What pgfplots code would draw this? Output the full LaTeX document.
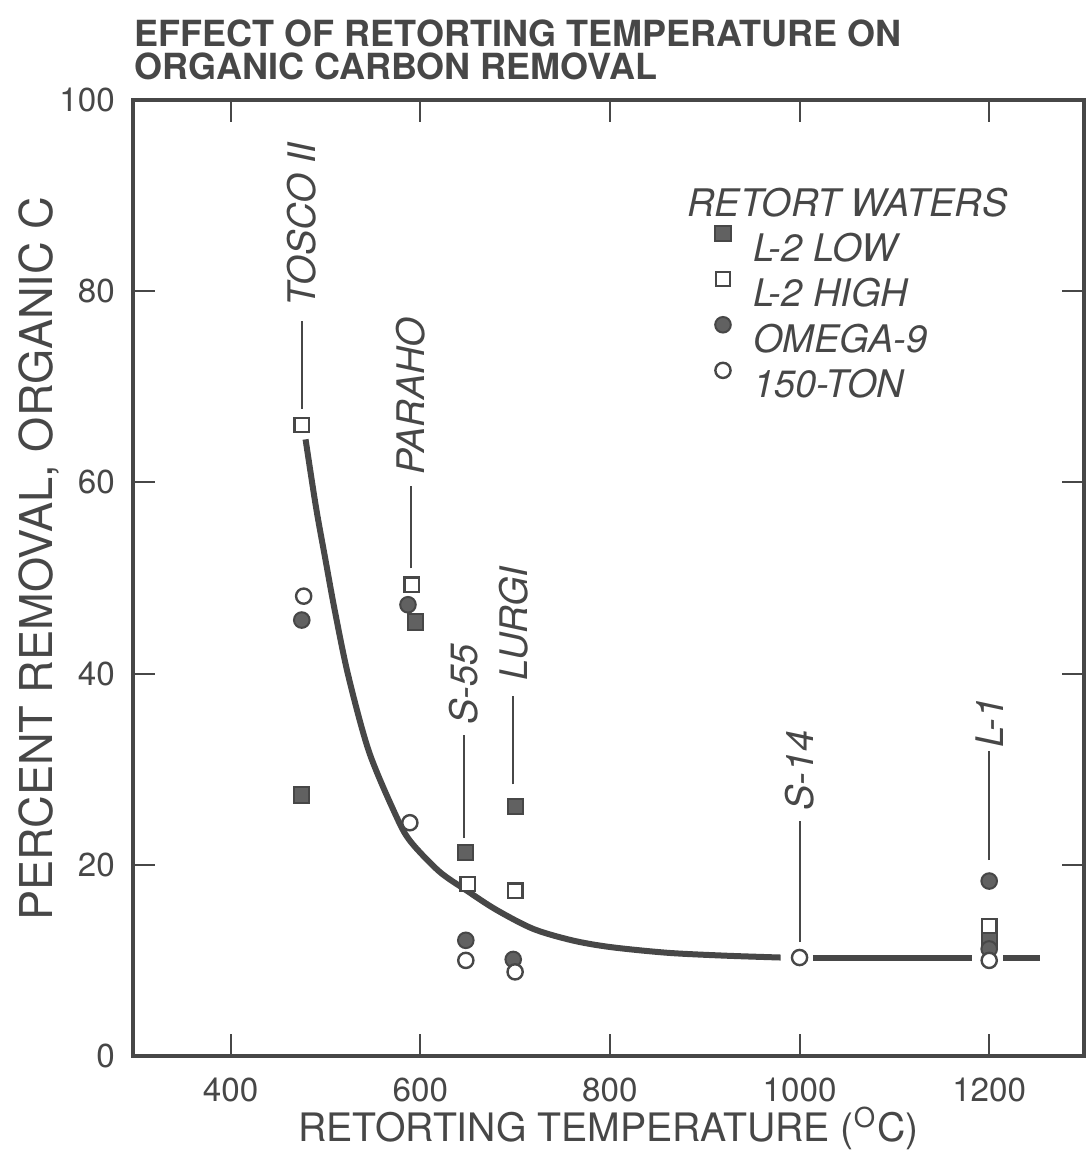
\documentclass[border=0pt]{standalone}
\usepackage{fontspec}
\setmainfont{TeX Gyre Heros}
\usepackage{pgfplots}
\pgfplotsset{compat=1.18}
\definecolor{ink}{gray}{0.28}
\definecolor{fillmk}{gray}{0.38}
\newcommand{\lbl}{\fontsize{9.5}{9.5}\selectfont\itshape}

\begin{document}
\begin{tikzpicture}
\useasboundingbox (0,0) rectangle (272pt,288.25pt);
\begin{axis}[
  at={(33.25pt,24.25pt)}, anchor=south west,
  width=237.75pt, height=239pt, scale only axis,
  xmin=297, xmax=1300, ymin=0, ymax=100,
  xtick={400,600,800,1000,1200}, ytick={0,20,40,60,80,100},
  tick align=inside, major tick length=5.5pt,
  axis line style={line width=0.8pt, draw=ink},
  every tick/.style={draw=ink, line width=0.5pt},
  tick label style={font=\fontsize{8.3}{8.3}\selectfont, text=ink},
  /pgf/number format/assume math mode=true,
  /pgf/number format/1000 sep={},
  xticklabel style={inner sep=0pt, yshift=-5.4pt},
  yticklabel style={xshift=-1pt},
  xlabel={RETORTING TEMPERATURE (\textsuperscript{O}C)},
  ylabel={PERCENT REMOVAL, ORGANIC C},
  label style={text=ink, inner sep=0pt},
  xlabel style={font=\fontsize{9.8}{9.8}\selectfont, at={(axis description cs:0.5,-0.0895)}, anchor=base},
  ylabel style={font=\fontsize{11.3}{11.3}\selectfont, at={(axis description cs:-0.085,0.52)}, anchor=base},
  clip=false,
  legend style={at={(axis cs:911,86.8)}, anchor=north west, draw=none, fill=none,
    inner sep=0pt, outer sep=0pt, font=\lbl, text=ink, row sep=2.6pt, column sep=5.6pt,
    nodes={inner sep=0pt, text height=6.9pt, text depth=0pt}},
  legend cell align=left,
  legend image code/.code={\draw[#1] plot coordinates {(0pt,3.45pt)};},
]
% fitted curve, drawn in pieces (gaps round the markers)
\addplot[ink, line width=1.5pt, smooth, forget plot] coordinates {
 (479,64.5) (490,57.4) (500,51.9) (510,46.5) (524,39.8) (546,31.8) (575,25.0)
 (590,22.4) (620,19.3) (649,17.3) (680,15.3) (719,13.3) (760,12.1) (800,11.4)
 (860,10.8) (920,10.5) (980,10.3)};
\addplot[ink, line width=1.5pt, forget plot] coordinates {(1014,10.3) (1182,10.3)};
\addplot[ink, line width=1.5pt, forget plot] coordinates {(1215,10.3) (1254,10.3)};

\addplot[only marks, mark=square*, mark size=1.9pt, mark options={draw=ink, fill=fillmk, line width=0.5pt}]
 coordinates {(475,27.3) (595,45.4) (648,21.3) (700,26.1) (1200,12.2)};
\addlegendentry{L-2 LOW}
\addplot[only marks, mark=square*, mark size=1.8pt, mark options={draw=ink, fill=white, line width=0.6pt}]
 coordinates {(475,66.0) (591,49.3) (650,18.0) (700,17.3) (1200,13.6)};
\addlegendentry{L-2 HIGH}
\addplot[only marks, mark=*, mark size=1.95pt, mark options={draw=ink, fill=fillmk, line width=0.5pt}]
 coordinates {(475,45.6) (587,47.2) (648,12.1) (698,10.1) (1200,18.3) (1200,11.2)};
\addlegendentry{OMEGA-9}
\addplot[only marks, mark=*, mark size=1.9pt, mark options={draw=ink, fill=white, line width=0.6pt}]
 coordinates {(477,48.1) (589,24.4) (648,10.0) (700,8.8) (1000,10.3) (1200,10.0)};
\addlegendentry{150-TON}

% retort labels with leader lines
\draw[ink, line width=0.5pt] (axis cs:475,67.7) -- (axis cs:475,76.9);
\node[rotate=90, anchor=west, inner sep=0pt, font=\lbl, text=ink] at (axis cs:475,78.3) {TOSCO II};
\draw[ink, line width=0.5pt] (axis cs:590,51.0) -- (axis cs:590,59.6);
\node[rotate=90, anchor=west, inner sep=0pt, font=\lbl, text=ink] at (axis cs:590,60.7) {PARAHO};
\draw[ink, line width=0.5pt] (axis cs:646,22.8) -- (axis cs:646,33.6);
\node[rotate=90, anchor=west, inner sep=0pt, font=\lbl, text=ink] at (axis cs:646,34.6) {S-55};
\draw[ink, line width=0.5pt] (axis cs:698,28.4) -- (axis cs:698,37.7);
\node[rotate=90, anchor=west, inner sep=0pt, font=\lbl, text=ink] at (axis cs:698,39.2) {LURGI};
\draw[ink, line width=0.5pt] (axis cs:1000,11.9) -- (axis cs:1000,24.6);
\node[rotate=90, anchor=west, inner sep=0pt, font=\lbl, text=ink] at (axis cs:1000,25.6) {S-14};
\draw[ink, line width=0.5pt] (axis cs:1200,20.5) -- (axis cs:1200,31.9);
\node[rotate=90, anchor=west, inner sep=0pt, font=\lbl, text=ink] at (axis cs:1200,32.2) {L-1};

\node[anchor=east, inner sep=0pt, font=\lbl, text=ink] at (axis cs:1220,89.3) {RETORT WATERS};
\end{axis}
\node[anchor=base west, inner sep=0pt, font=\fontsize{9}{9}\selectfont\bfseries, text=ink]
 at (33.5pt,276.5pt) {EFFECT OF RETORTING TEMPERATURE ON};
\node[anchor=base west, inner sep=0pt, font=\fontsize{9}{9}\selectfont\bfseries, text=ink]
 at (33.5pt,268.25pt) {ORGANIC CARBON REMOVAL};
\end{tikzpicture}
\end{document}
